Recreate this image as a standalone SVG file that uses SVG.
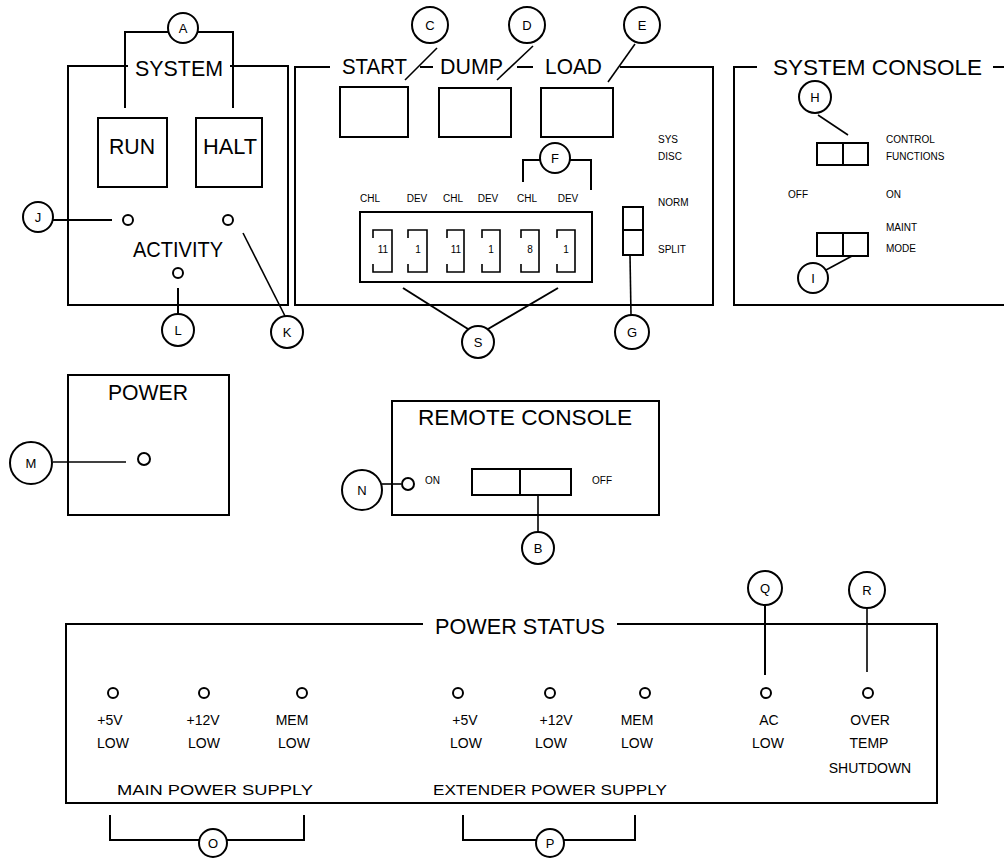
<svg xmlns="http://www.w3.org/2000/svg" width="1004" height="860" viewBox="0 0 1004 860">
<style>
.ln{stroke:#000;stroke-width:2;fill:none}
.th{stroke:#000;stroke-width:1.6;fill:none}
.led{stroke:#000;stroke-width:2;fill:#fff}
.co{stroke:#000;stroke-width:2;fill:#fff}
.h{font-family:"Liberation Sans",Arial,sans-serif;font-size:22px;fill:#000}
.m{font-family:"Liberation Sans",Arial,sans-serif;font-size:14px;fill:#000}
.s{font-family:"Liberation Sans",Arial,sans-serif;font-size:10px;fill:#000}
.d{font-family:"Liberation Sans",Arial,sans-serif;font-size:10px;fill:#000;text-anchor:middle}
.cl{font-family:"Liberation Sans",Arial,sans-serif;font-size:13px;fill:#000;text-anchor:middle}
</style>
<rect width="1004" height="860" fill="#fff"/>

<g id="connectors">
  <!-- A bracket -->
  <path class="ln" d="M125,108 V32 H168 M198,32 H233 V108"/>
  <!-- J -->
  <line class="ln" x1="53" y1="220" x2="112" y2="220"/>
  <!-- K -->
  <line class="th" x1="243" y1="233" x2="285" y2="316"/>
  <!-- L -->
  <line class="ln" x1="178" y1="288" x2="178" y2="314"/>
  <!-- C D E -->
  <line class="th" x1="437" y1="48" x2="405" y2="80"/>
  <line class="th" x1="533" y1="46" x2="497" y2="80"/>
  <line class="th" x1="635" y1="44" x2="608" y2="82"/>
  <!-- F bracket -->
  <path class="ln" d="M523,182 V160 H540 M570,160 H591 V190"/>
  <!-- S -->
  <line class="ln" x1="403" y1="288" x2="468" y2="329"/>
  <line class="ln" x1="558" y1="288" x2="488" y2="329"/>
  <!-- G -->
  <line class="th" x1="630" y1="255" x2="631" y2="315"/>
  <!-- H -->
  <line class="th" x1="818" y1="115" x2="848" y2="135"/>
  <!-- I -->
  <line class="th" x1="826" y1="270" x2="852" y2="256"/>
  <!-- M -->
  <line class="th" x1="53" y1="462" x2="126" y2="462"/>
  <!-- N -->
  <line class="th" x1="382" y1="484" x2="401" y2="484"/>
  <!-- B -->
  <line class="th" x1="538" y1="495" x2="538" y2="532"/>
  <!-- Q R -->
  <line class="ln" x1="765" y1="605" x2="765" y2="675"/>
  <line class="th" x1="867" y1="608" x2="867" y2="672"/>
  <!-- O bracket -->
  <path class="ln" d="M110,815 V840 H199 M227,840 H304 V815"/>
  <!-- P bracket -->
  <path class="ln" d="M463,815 V840 H536 M564,840 H635 V815"/>
</g>

<g id="system-panel">
  <path class="ln" d="M128,66 H68 V305 H288 V66 H230"/>
  <text class="h" x="179" y="76" text-anchor="middle" textLength="88" lengthAdjust="spacingAndGlyphs">SYSTEM</text>
  <rect class="ln" x="98" y="118" width="69" height="69"/>
  <rect class="ln" x="196" y="118" width="66" height="69"/>
  <text class="h" x="132" y="154" text-anchor="middle" font-size="20" textLength="46" lengthAdjust="spacingAndGlyphs">RUN</text>
  <text class="h" x="230" y="154" text-anchor="middle" font-size="20" textLength="54" lengthAdjust="spacingAndGlyphs">HALT</text>
  <circle class="led" cx="128" cy="220" r="5"/>
  <circle class="led" cx="228" cy="220" r="5"/>
  <text class="h" x="178" y="257" text-anchor="middle" font-size="20" textLength="90" lengthAdjust="spacingAndGlyphs">ACTIVITY</text>
  <circle class="led" cx="178" cy="273" r="5"/>
</g>

<g id="start-panel">
  <path class="ln" d="M330,67 H295 V305 H713 V67 H620 M420,67 H433 M517,67 H533"/>
  <text class="h" x="342" y="74" textLength="65" lengthAdjust="spacingAndGlyphs">START</text>
  <text class="h" x="440" y="74" textLength="63" lengthAdjust="spacingAndGlyphs">DUMP</text>
  <text class="h" x="545" y="74" textLength="57" lengthAdjust="spacingAndGlyphs">LOAD</text>
  <rect class="ln" x="340" y="87" width="68" height="50"/>
  <rect class="ln" x="439" y="88" width="72" height="49"/>
  <rect class="ln" x="541" y="88" width="72" height="49"/>
  <text class="s" x="658" y="143">SYS</text>
  <text class="s" x="658" y="160">DISC</text>
  <text class="s" x="658" y="206">NORM</text>
  <text class="s" x="658" y="253">SPLIT</text>
  <rect class="ln" x="623" y="207" width="20" height="48"/>
  <line class="ln" x1="623" y1="230" x2="643" y2="230"/>
  <text class="d" x="370" y="202">CHL</text>
  <text class="d" x="417" y="202">DEV</text>
  <text class="d" x="453" y="202">CHL</text>
  <text class="d" x="488" y="202">DEV</text>
  <text class="d" x="527" y="202">CHL</text>
  <text class="d" x="568" y="202">DEV</text>
  <rect class="ln" x="360" y="212" width="232" height="70"/>
  <path class="th" d="M373,238 V230 H392 V272 H373 V264"/>
  <path class="th" d="M408,238 V230 H427 V272 H408 V264"/>
  <path class="th" d="M447,238 V230 H464 V272 H447 V264"/>
  <path class="th" d="M482,238 V230 H500 V272 H482 V264"/>
  <path class="th" d="M521,238 V230 H539 V272 H521 V264"/>
  <path class="th" d="M557,238 V230 H575 V272 H557 V264"/>
  <text class="d" x="383" y="253">11</text>
  <text class="d" x="418" y="253">1</text>
  <text class="d" x="456" y="253">11</text>
  <text class="d" x="491" y="253">1</text>
  <text class="d" x="530" y="253">8</text>
  <text class="d" x="566" y="253">1</text>
</g>

<g id="system-console-panel">
  <path class="ln" d="M757,67 H734 V305 H1004 M993,67 H1004"/>
  <text class="h" x="773" y="75" textLength="209" lengthAdjust="spacingAndGlyphs">SYSTEM  CONSOLE</text>
  <rect class="ln" x="817" y="143" width="51" height="22"/>
  <line class="ln" x1="843" y1="143" x2="843" y2="165"/>
  <text class="s" x="886" y="143" font-size="9">CONTROL</text>
  <text class="s" x="886" y="160" font-size="9">FUNCTIONS</text>
  <text class="s" x="788" y="198" font-size="9">OFF</text>
  <text class="s" x="886" y="198" font-size="9">ON</text>
  <text class="s" x="886" y="231" font-size="9">MAINT</text>
  <text class="s" x="886" y="252" font-size="9">MODE</text>
  <rect class="ln" x="817" y="233" width="51" height="23"/>
  <line class="ln" x1="843" y1="233" x2="843" y2="256"/>
</g>

<g id="power-panel">
  <rect class="ln" x="68" y="375" width="161" height="140"/>
  <text class="h" x="148" y="400" text-anchor="middle" font-size="20" textLength="80" lengthAdjust="spacingAndGlyphs">POWER</text>
  <circle class="led" cx="144" cy="459" r="6"/>
</g>

<g id="remote-console-panel">
  <rect class="ln" x="392" y="401" width="267" height="114"/>
  <text class="h" x="418" y="425" textLength="214" lengthAdjust="spacingAndGlyphs">REMOTE  CONSOLE</text>
  <circle class="led" cx="408" cy="484" r="6"/>
  <text class="s" x="425" y="484" font-size="9">ON</text>
  <rect class="ln" x="472" y="469" width="99" height="26"/>
  <line class="ln" x1="520" y1="469" x2="520" y2="495"/>
  <text class="s" x="592" y="484" font-size="9">OFF</text>
</g>

<g id="power-status-panel">
  <path class="ln" d="M423,624 H66 V803 H937 V624 H617"/>
  <text class="h" x="435" y="634" textLength="170" lengthAdjust="spacingAndGlyphs">POWER  STATUS</text>
  <circle class="led" cx="113" cy="693" r="5"/>
  <circle class="led" cx="204" cy="693" r="5"/>
  <circle class="led" cx="302" cy="693" r="5"/>
  <circle class="led" cx="458" cy="693" r="5"/>
  <circle class="led" cx="550" cy="693" r="5"/>
  <circle class="led" cx="645" cy="693" r="5"/>
  <circle class="led" cx="766" cy="693" r="5"/>
  <circle class="led" cx="868" cy="693" r="5"/>
  <g class="m" text-anchor="middle">
    <text x="110" y="725">+5V</text><text x="113" y="748">LOW</text>
    <text x="203" y="725">+12V</text><text x="204" y="748">LOW</text>
    <text x="292" y="725">MEM</text><text x="294" y="748">LOW</text>
    <text x="465" y="725">+5V</text><text x="466" y="748">LOW</text>
    <text x="556" y="725">+12V</text><text x="551" y="748">LOW</text>
    <text x="637" y="725">MEM</text><text x="637" y="748">LOW</text>
    <text x="769" y="725">AC</text><text x="768" y="748">LOW</text>
    <text x="870" y="725">OVER</text><text x="869" y="748">TEMP</text>
    <text x="870" y="773">SHUTDOWN</text>
    <text x="215" y="795" textLength="196" lengthAdjust="spacingAndGlyphs">MAIN  POWER  SUPPLY</text>
    <text x="550" y="795" textLength="234" lengthAdjust="spacingAndGlyphs">EXTENDER  POWER  SUPPLY</text>
  </g>
</g>

<g id="callout-A"><circle class="co" cx="183" cy="28" r="15"/><text class="cl" x="183" y="33">A</text></g>
<g id="callout-B"><circle class="co" cx="538" cy="548" r="16"/><text class="cl" x="538" y="553">B</text></g>
<g id="callout-C"><circle class="co" cx="430" cy="25" r="18"/><text class="cl" x="430" y="30">C</text></g>
<g id="callout-D"><circle class="co" cx="527" cy="25" r="18"/><text class="cl" x="527" y="30">D</text></g>
<g id="callout-E"><circle class="co" cx="642" cy="25" r="18"/><text class="cl" x="642" y="30">E</text></g>
<g id="callout-F"><circle class="co" cx="555" cy="158" r="15"/><text class="cl" x="555" y="163">F</text></g>
<g id="callout-G"><circle class="co" cx="632" cy="332" r="17"/><text class="cl" x="632" y="337">G</text></g>
<g id="callout-H"><circle class="co" cx="815" cy="97" r="16"/><text class="cl" x="815" y="102">H</text></g>
<g id="callout-I"><circle class="co" cx="813" cy="278" r="15"/><text class="cl" x="813" y="283">I</text></g>
<g id="callout-J"><circle class="co" cx="38" cy="217" r="15"/><text class="cl" x="38" y="222">J</text></g>
<g id="callout-K"><circle class="co" cx="287" cy="332" r="16"/><text class="cl" x="287" y="337">K</text></g>
<g id="callout-L"><circle class="co" cx="178" cy="330" r="16"/><text class="cl" x="178" y="335">L</text></g>
<g id="callout-M"><circle class="co" cx="31" cy="463" r="21"/><text class="cl" x="31" y="468">M</text></g>
<g id="callout-N"><circle class="co" cx="362" cy="490" r="20"/><text class="cl" x="362" y="495">N</text></g>
<g id="callout-O"><circle class="co" cx="213" cy="843" r="14"/><text class="cl" x="213" y="848">O</text></g>
<g id="callout-P"><circle class="co" cx="550" cy="843" r="14"/><text class="cl" x="550" y="848">P</text></g>
<g id="callout-Q"><circle class="co" cx="765" cy="588" r="17"/><text class="cl" x="765" y="593">Q</text></g>
<g id="callout-R"><circle class="co" cx="867" cy="590" r="18"/><text class="cl" x="867" y="595">R</text></g>
<g id="callout-S"><circle class="co" cx="478" cy="342" r="16"/><text class="cl" x="478" y="347">S</text></g>
</svg>
